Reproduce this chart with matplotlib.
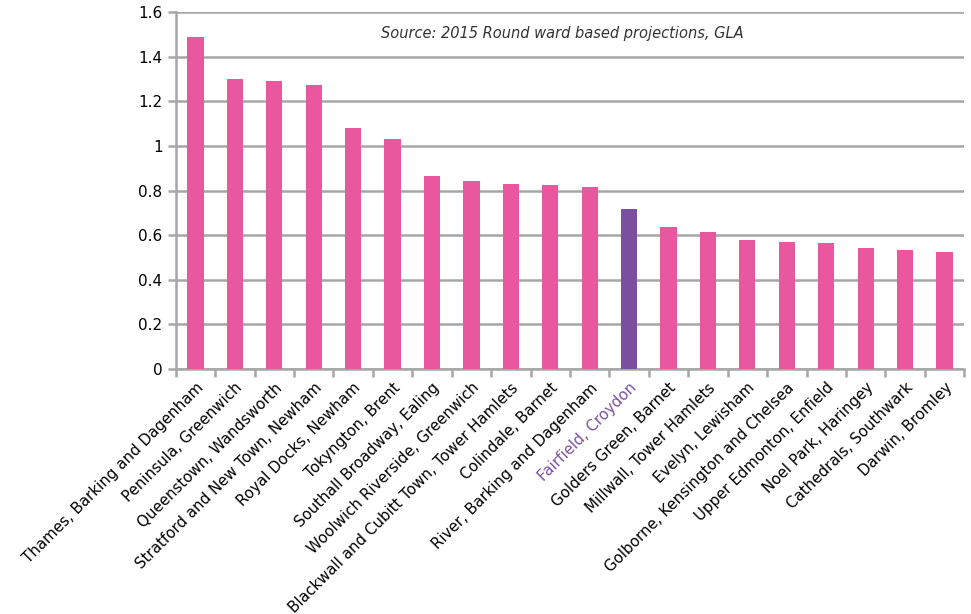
import numpy as np
import matplotlib.pyplot as plt
from matplotlib.ticker import FuncFormatter

wards = ["Thames, Barking and Dagenham", "Peninsula, Greenwich", "Queenstown, Wandsworth",
         "Stratford and New Town, Newham", "Royal Docks, Newham", "Tokyngton, Brent",
         "Southall Broadway, Ealing", "Woolwich Riverside, Greenwich",
         "Blackwall and Cubitt Town, Tower Hamlets", "Colindale, Barnet",
         "River, Barking and Dagenham", "Fairfield, Croydon", "Golders Green, Barnet",
         "Millwall, Tower Hamlets", "Evelyn, Lewisham", "Golborne, Kensington and Chelsea",
         "Upper Edmonton, Enfield", "Noel Park, Haringey", "Cathedrals, Southwark",
         "Darwin, Bromley"]
values = [1.49, 1.30, 1.29, 1.275, 1.08, 1.03, 0.865, 0.843, 0.829, 0.825,
          0.816, 0.717, 0.637, 0.614, 0.578, 0.569, 0.565, 0.543, 0.534, 0.525]
highlight = "Fairfield, Croydon"

pink = "#E9579E"
purple = "#7B4F9F"
grey = "#A6A6A6"

plt.rcParams['font.family'] = ['DejaVu Sans']

fig = plt.figure(figsize=(9.71, 6.14), dpi=100)
ax = fig.add_axes([0.181, 0.399, 0.812, 0.581])

x = np.arange(len(wards))
colors = [purple if w == highlight else pink for w in wards]
ax.bar(x, values, width=0.41, color=colors, zorder=3)

ax.set_xlim(-0.5, len(wards) - 0.5)
ax.set_ylim(0, 1.6)
ax.set_yticks(np.arange(0, 1.61, 0.2))
ax.yaxis.set_major_formatter(FuncFormatter(lambda v, p: "%g" % round(v, 1)))
ax.grid(axis='y', color=grey, linewidth=1.8, zorder=0)

for s in ['top', 'right']:
    ax.spines[s].set_visible(False)
for s in ['left', 'bottom']:
    ax.spines[s].set_color(grey)
    ax.spines[s].set_linewidth(1.8)

ax.set_xticks(x)
ax.set_xticklabels(wards, rotation=45, ha='right', rotation_mode='anchor', fontsize=10.8)
ax.set_xticks(np.arange(-0.5, len(wards)), minor=True)
ax.tick_params(axis='x', which='major', length=0, pad=8)
ax.tick_params(axis='x', which='minor', length=6, width=1.8, color=grey)
ax.tick_params(axis='y', length=6, width=1.8, color=grey, labelsize=11)
for lbl in ax.get_xticklabels():
    if lbl.get_text() == highlight:
        lbl.set_color(purple)

ax.text(0.49, 0.94, "Source: 2015 Round ward based projections, GLA", transform=ax.transAxes,
        ha='center', va='center', style='italic', fontsize=10.5, color='#333333')

fig.savefig("out.png", dpi=100)
